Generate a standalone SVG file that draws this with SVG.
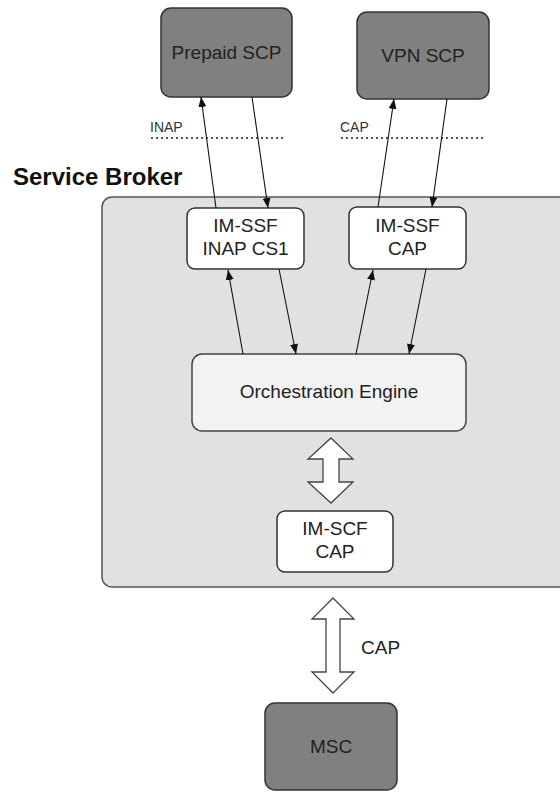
<svg xmlns="http://www.w3.org/2000/svg" width="560" height="792" viewBox="0 0 560 792">
  <style>
    .lbl { font-family: "Liberation Sans", Arial, sans-serif; font-size: 19px; fill: #222; text-anchor: middle; }
    .small { font-family: "Liberation Sans", Arial, sans-serif; font-size: 14px; fill: #333; }
    .title { font-family: "Liberation Sans", Arial, sans-serif; font-size: 24px; font-weight: bold; fill: #111; }
    .scp { fill: #808080; stroke: #333; stroke-width: 1.5; }
    .inner { fill: #ffffff; stroke: #333; stroke-width: 1.5; }
    .engine { fill: #f2f2f2; stroke: #444; stroke-width: 1.5; }
    .broker { fill: #e1e1e1; stroke: #555; stroke-width: 1.5; }
    .link { stroke: #111; stroke-width: 1.1; fill: none; marker-end: url(#head); }
    .dots { stroke: #555; stroke-width: 2; stroke-dasharray: 2 3; fill: none; }
    .fat { fill: #ffffff; stroke: #444; stroke-width: 1.3; stroke-linejoin: miter; }
  </style>
  <defs>
    <marker id="head" viewBox="0 0 10 8" refX="10" refY="4" markerWidth="10" markerHeight="8" markerUnits="userSpaceOnUse" orient="auto">
      <path d="M0,0 L10,4 L0,8 z" fill="#111"/>
    </marker>
  </defs>

  <rect width="560" height="792" fill="#ffffff"/>

  <!-- Service Broker container -->
  <g id="service-broker">
    <rect class="broker" x="102" y="197" width="480" height="390" rx="10"/>
    <text class="title" x="13" y="185">Service Broker</text>
  </g>

  <!-- protocol boundaries -->
  <g id="inap-boundary">
    <text class="small" x="150" y="132">INAP</text>
    <line class="dots" x1="151" y1="138" x2="283" y2="138"/>
  </g>
  <g id="cap-boundary">
    <text class="small" x="340" y="132">CAP</text>
    <line class="dots" x1="341" y1="138" x2="486" y2="138"/>
  </g>

  <!-- external nodes -->
  <g id="prepaid-scp">
    <rect class="scp" x="161" y="8" width="131" height="89" rx="10"/>
    <text class="lbl" x="226.5" y="59">Prepaid SCP</text>
  </g>
  <g id="vpn-scp">
    <rect class="scp" x="357" y="12" width="132" height="87" rx="10"/>
    <text class="lbl" x="423" y="62">VPN SCP</text>
  </g>
  <g id="msc">
    <rect class="scp" x="265" y="703" width="132" height="87" rx="10"/>
    <text class="lbl" x="331" y="753">MSC</text>
  </g>

  <!-- broker internals -->
  <g id="im-ssf-inap">
    <rect class="inner" x="187" y="208" width="117" height="61" rx="8"/>
    <text class="lbl" x="245.5" y="232">IM-SSF</text>
    <text class="lbl" x="245.5" y="255">INAP CS1</text>
  </g>
  <g id="im-ssf-cap">
    <rect class="inner" x="349" y="207" width="117" height="62" rx="8"/>
    <text class="lbl" x="407.5" y="232">IM-SSF</text>
    <text class="lbl" x="407.5" y="255">CAP</text>
  </g>
  <g id="orchestration-engine">
    <rect class="engine" x="192" y="354" width="274" height="77" rx="10"/>
    <text class="lbl" x="329" y="398">Orchestration Engine</text>
  </g>
  <g id="im-scf-cap">
    <rect class="inner" x="277" y="511" width="116" height="61" rx="8"/>
    <text class="lbl" x="335" y="535">IM-SCF</text>
    <text class="lbl" x="335" y="558">CAP</text>
  </g>

  <!-- connectors -->
  <g id="connectors">
    <line class="link" x1="216" y1="208" x2="201" y2="97"/>
    <line class="link" x1="252" y1="97" x2="268" y2="208"/>
    <line class="link" x1="378" y1="207" x2="394" y2="99"/>
    <line class="link" x1="447" y1="99" x2="432" y2="207"/>
    <line class="link" x1="243" y1="354" x2="228" y2="270"/>
    <line class="link" x1="279" y1="269" x2="296" y2="354"/>
    <line class="link" x1="356" y1="354" x2="373" y2="270"/>
    <line class="link" x1="426" y1="269" x2="409" y2="354"/>
    <!-- engine to IM-SCF -->
    <polygon class="fat" points="331,438 353,459 339,459 339,482 353,482 331,503 308,482 323,482 323,459 308,459"/>
    <!-- IM-SCF to MSC over CAP -->
    <polygon class="fat" points="333,598 354,619 340,619 340,672 354,672 333,693 312,672 326,672 326,619 312,619"/>
    <text class="lbl" x="361" y="654" style="text-anchor:start">CAP</text>
  </g>
</svg>
